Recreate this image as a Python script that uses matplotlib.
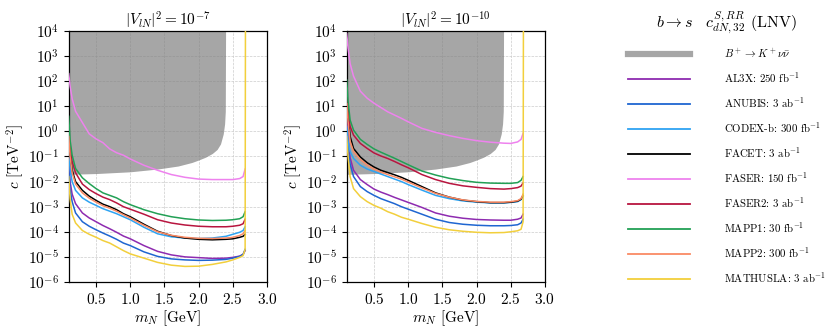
import numpy as np
import matplotlib
matplotlib.use("Agg")
import matplotlib.pyplot as plt
from matplotlib.lines import Line2D

plt.rcParams['font.family'] = 'serif'
plt.rcParams['font.serif'] = ['cmr10', 'DejaVu Serif']
plt.rcParams['mathtext.fontset'] = 'cm'
plt.rcParams['axes.formatter.use_mathtext'] = True
plt.rcParams['axes.unicode_minus'] = True

# ---------------- data (log10 of c in TeV^-2) ----------------
mN = [0.1, 0.12, 0.15, 0.2, 0.3, 0.4, 0.5, 0.6, 0.7, 0.8, 0.9, 1.0, 1.2, 1.4,
      1.6, 1.8, 2.0, 2.2, 2.4, 2.5, 2.6, 2.65, 2.68]

# B+ -> K+ nu nubar excluded region (lower boundary)
bkn_m = [0.1, 0.5, 1.0, 1.4, 1.7, 1.9, 2.0, 2.1, 2.2, 2.27, 2.32, 2.36, 2.38, 2.39, 2.395]
bkn_logc = [-1.71, -1.68, -1.61, -1.5, -1.38, -1.24, -1.14, -1.03, -0.88, -0.72, -0.5,
            -0.1, 0.3, 0.8, 4.5]

labels = ["AL3X: 250 fb$^{-1}$", "ANUBIS: 3 ab$^{-1}$", "CODEX-b: 300 fb$^{-1}$",
          "FACET: 3 ab$^{-1}$", "FASER: 150 fb$^{-1}$", "FASER2: 3 ab$^{-1}$",
          "MAPP1: 30 fb$^{-1}$", "MAPP2: 300 fb$^{-1}$", "MATHUSLA: 3 ab$^{-1}$"]
colors = ["#8e2bb0", "#1f66d1", "#2ea3f2", "#000000", "#ee82ee", "#b8153f",
          "#22a055", "#fa8a64", "#f2cf3c"]

# |V_lN|^2 = 1e-7
left_al3x = [-1.2, -2.0, -2.5, -2.88, -3.25, -3.45, -3.6, -3.75, -3.88, -4.02, -4.17, -4.28,
             -4.55, -4.78, -4.92, -5.0, -5.03, -5.06, -5.05, -5.02, -4.97, -4.9, -4.75]
left_anubis = [-1.5, -2.3, -2.8, -3.25, -3.6, -3.78, -3.92, -4.05, -4.17, -4.3, -4.45, -4.55,
               -4.8, -4.98, -5.08, -5.12, -5.14, -5.13, -5.1, -5.05, -4.98, -4.9, -4.7]
left_codexb = [-0.9, -1.5, -2.0, -2.35, -2.65, -2.82, -2.95, -3.08, -3.18, -3.28, -3.4, -3.52,
               -3.82, -4.08, -4.2, -4.25, -4.27, -4.25, -4.18, -4.1, -4.02, -3.95, -3.8]
left_facet = [-0.1, -0.9, -1.55, -2.0, -2.35, -2.58, -2.75, -2.9, -3.0, -3.12, -3.28, -3.4,
              -3.7, -3.98, -4.15, -4.25, -4.3, -4.32, -4.3, -4.28, -4.22, -4.18, -4.1]
left_faser = [2.3, 1.8, 1.3, 0.8, 0.35, -0.1, -0.3, -0.45, -0.7, -0.85, -0.95, -1.1,
              -1.35, -1.55, -1.72, -1.83, -1.9, -1.92, -1.92, -1.92, -1.88, -1.8, -1.5]
left_faser2 = [0.0, -0.7, -1.2, -1.65, -2.1, -2.32, -2.48, -2.62, -2.72, -2.85, -3.0, -3.1,
               -3.3, -3.52, -3.65, -3.73, -3.78, -3.8, -3.8, -3.78, -3.74, -3.68, -3.5]
left_mapp1 = [0.6, -0.35, -0.95, -1.48, -1.85, -2.08, -2.28, -2.45, -2.55, -2.65, -2.8, -2.92,
              -3.12, -3.28, -3.4, -3.48, -3.53, -3.55, -3.54, -3.52, -3.48, -3.4, -3.2]
left_mapp2 = [-0.2, -1.0, -1.65, -2.1, -2.45, -2.66, -2.82, -2.96, -3.06, -3.18, -3.32, -3.45,
              -3.74, -4.0, -4.14, -4.22, -4.26, -4.27, -4.25, -4.22, -4.15, -4.08, -3.95]
left_mathusla = [-1.8, -2.7, -3.3, -3.65, -3.95, -4.1, -4.22, -4.35, -4.45, -4.6, -4.75, -4.88,
                 -5.05, -5.22, -5.33, -5.38, -5.37, -5.3, -5.2, -5.12, -5.02, -4.95, -4.7]

# |V_lN|^2 = 1e-10
right_al3x = [0.45, -0.3, -1.05, -1.55, -1.92, -2.12, -2.3, -2.42, -2.52, -2.63, -2.73, -2.83,
              -3.03, -3.25, -3.38, -3.46, -3.51, -3.53, -3.54, -3.54, -3.5, -3.45, -3.3]
right_anubis = [0.1, -0.7, -1.3, -1.8, -2.2, -2.4, -2.55, -2.68, -2.78, -2.88, -3.0, -3.1,
                -3.3, -3.5, -3.63, -3.7, -3.74, -3.76, -3.76, -3.75, -3.72, -3.65, -3.5]
right_codexb = [0.2, -0.4, -0.8, -1.08, -1.35, -1.5, -1.6, -1.7, -1.8, -1.9, -2.0, -2.12,
                -2.34, -2.55, -2.68, -2.77, -2.82, -2.85, -2.85, -2.83, -2.8, -2.72, -2.6]
right_facet = [1.45, 0.7, -0.2, -0.68, -1.02, -1.25, -1.42, -1.55, -1.64, -1.73, -1.83, -1.95,
               -2.2, -2.45, -2.62, -2.74, -2.8, -2.84, -2.84, -2.82, -2.78, -2.7, -2.55]
right_faser = [3.9, 3.3, 2.7, 2.2, 1.6, 1.32, 1.12, 0.95, 0.78, 0.65, 0.52, 0.38,
               0.12, -0.04, -0.17, -0.28, -0.37, -0.43, -0.47, -0.48, -0.42, -0.32, -0.08]
right_faser2 = [1.3, 0.8, 0.2, -0.15, -0.48, -0.68, -0.86, -0.98, -1.08, -1.2, -1.33, -1.45,
                -1.72, -1.92, -2.07, -2.17, -2.23, -2.28, -2.3, -2.28, -2.24, -2.18, -2.05]
right_mapp1 = [2.05, 1.2, 0.45, 0.05, -0.32, -0.52, -0.7, -0.83, -0.95, -1.07, -1.2, -1.33,
               -1.58, -1.74, -1.87, -1.96, -2.03, -2.06, -2.07, -2.07, -2.04, -1.95, -1.8]
right_mapp2 = [1.1, 0.4, -0.4, -0.8, -1.12, -1.34, -1.5, -1.62, -1.72, -1.81, -1.9, -2.02,
               -2.25, -2.47, -2.62, -2.73, -2.79, -2.82, -2.82, -2.8, -2.76, -2.68, -2.5]
right_mathusla = [-0.2, -1.0, -1.8, -2.28, -2.6, -2.8, -2.95, -3.06, -3.2, -3.3, -3.42, -3.5,
                  -3.67, -3.82, -3.92, -3.98, -4.02, -4.04, -4.03, -4.0, -3.96, -3.9, -3.6]

# MATHUSLA sensitivity closes at the kinematic end-point (vertical line)
mathusla_end_m = 2.685
mathusla_end_logc = 4.5

panels = [
    (r"$|V_{lN}|^2=10^{-7}$",
     [left_al3x, left_anubis, left_codexb, left_facet, left_faser, left_faser2,
      left_mapp1, left_mapp2, left_mathusla]),
    (r"$|V_{lN}|^2=10^{-10}$",
     [right_al3x, right_anubis, right_codexb, right_facet, right_faser, right_faser2,
      right_mapp1, right_mapp2, right_mathusla]),
]

fig = plt.figure(figsize=(8.31, 3.33), dpi=100)
ax_lefts = [0.0827, 0.4172]

for (title, series), axl in zip(panels, ax_lefts):
    ax = fig.add_axes([axl, 0.1532, 0.2386, 0.7538])
    ax.fill_between(bkn_m, 10 ** np.array(bkn_logc), 1e5, color="grey", alpha=0.7,
                    lw=0, zorder=1)
    for i, (vals, col) in enumerate(zip(series, colors)):
        xs = list(mN)
        ys = list(vals)
        if i == len(series) - 1:
            xs.append(mathusla_end_m)
            ys.append(mathusla_end_logc)
        ax.plot(xs, 10 ** np.array(ys), color=col, lw=1.1, zorder=3)
    ax.set_yscale("log")
    ax.set_xlim(0.1, 3.0)
    ax.set_ylim(1e-6, 1e4)
    ax.set_xticks([0.5, 1.0, 1.5, 2.0, 2.5, 3.0])
    ax.set_yticks([10.0 ** k for k in range(-6, 5)])
    ax.yaxis.set_minor_locator(matplotlib.ticker.NullLocator())
    ax.tick_params(axis="both", which="major", labelsize=11, direction="out", length=3.5,
                   width=0.8)
    ax.grid(True, which="major", color="#cccccc", ls="--", lw=0.5, zorder=0)
    ax.set_axisbelow(True)
    ax.set_title(title, fontsize=11, pad=3)
    ax.set_xlabel(r"$m_N$ [GeV]", fontsize=11, labelpad=1)
    ax.set_ylabel(r"$c$ [TeV$^{-2}$]", fontsize=11, labelpad=1)
    for s in ax.spines.values():
        s.set_linewidth(0.9)

handles = [Line2D([], [], color="grey", alpha=0.7, lw=4.5)]
handles += [Line2D([], [], color=c, lw=1.3) for c in colors]
leg_labels = [r"$B^+\to K^+\nu\bar{\nu}$"] + labels
leg = fig.legend(handles, leg_labels, loc="upper left", bbox_to_anchor=(0.7437, 1.0),
                 frameon=False, fontsize=7.8, handlelength=5.7, handletextpad=3.15,
                 labelspacing=0.96,
                 title=r"$b\to s\quad c^{S,RR}_{dN,32}$ (LNV)", title_fontsize=11.5)

fig.savefig("out.png", dpi=100)
